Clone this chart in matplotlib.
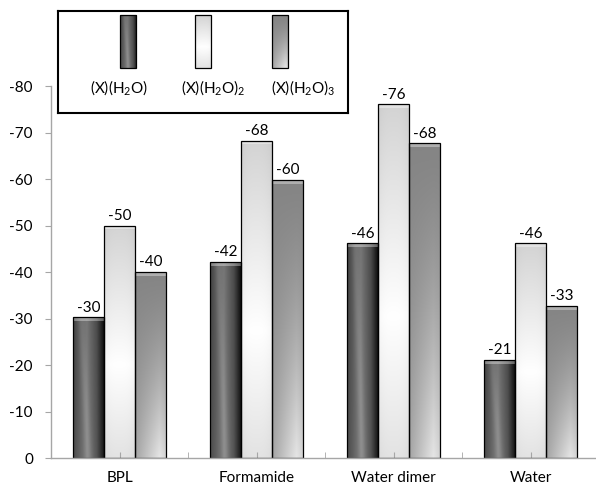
import matplotlib
matplotlib.use('Agg')
import matplotlib.pyplot as plt
import numpy as np

plt.rcParams['font.family'] = ['Lato', 'DejaVu Sans']
plt.rcParams['mathtext.default'] = 'regular'

# binding energies per complex size
categories = ['BPL', 'Formamide', 'Water dimer', 'Water']
series_names = [r'(X)(H$_2$O)', r'(X)(H$_2$O)$_2$', r'(X)(H$_2$O)$_3$']
one_water = [-30.3, -42.2, -46.2, -21.1]
two_water = [-50.0, -68.3, -76.1, -46.2]
three_water = [-40.1, -59.8, -67.7, -32.7]
yticks = [0, -10, -20, -30, -40, -50, -60, -70, -80]

AXIS_GREY = '#a6a6a6'


def interp_profile(t, pts):
    xs = [p[0] for p in pts]
    ys = [p[1] for p in pts]
    return np.interp(t, xs, ys)


def shade(kind, nx=40, ny=120):
    # u runs left->right, v runs top->bottom of the bar
    u = np.linspace(0, 1, nx)[None, :]
    v = np.linspace(0, 1, ny)[:, None]
    if kind == 0:
        base = interp_profile(u, [(0, 0.30), (0.15, 0.36), (0.45, 0.50), (0.78, 0.33), (1.0, 0.10)])
        streak = 0.07 * np.exp(-((u - 0.25 - 0.25 * v) / 0.12) ** 2)
        val = base + streak - 0.04 * (1 - v)
    elif kind == 1:
        vert = interp_profile(v, [(0, 0.83), (0.6, 1.0), (1.0, 0.89)])
        edge = 0.03 * (np.abs(u - 0.5) * 2) ** 3
        val = vert - edge
    else:
        val = 0.52 + 0.06 * v + 0.32 * (v ** 1.6) * interp_profile(u, [(0, 0.2), (0.8, 1.0), (1.0, 0.8)])
    val = np.clip(val * np.ones((ny, nx)), 0, 1)
    return np.dstack([val, val, val])


def paint_bar(ax, patch, kind):
    x = patch.get_x()
    w = patch.get_width()
    y0 = patch.get_y()
    h = patch.get_height()
    im = ax.imshow(shade(kind), extent=(x, x + w, y0, y0 + h), origin='upper',
                   aspect='auto', interpolation='bilinear', zorder=1.5)
    im.set_clip_path(patch)


fig = plt.figure(figsize=(5.96, 4.88), dpi=100)
ax = fig.add_axes([0.0856, 0.0609, 0.9195, 0.7623])

x = np.arange(len(categories))
width = 0.226
all_series = [one_water, two_water, three_water]
offsets = [-width, 0, width]

for k, vals in enumerate(all_series):
    bars = ax.bar(x + offsets[k], vals, width, facecolor='none', edgecolor='black',
                  linewidth=0.9, zorder=2)
    for b, v in zip(bars, vals):
        paint_bar(ax, b, k)
        # light bevel along the top edge
        ax.add_patch(plt.Rectangle((b.get_x(), v), b.get_width(), 0.8, facecolor='white',
                                   alpha=0.35, edgecolor='none', zorder=1.8))
        ax.annotate('%d' % round(v), (b.get_x() + b.get_width() / 2, v),
                    xytext=(0, 2), textcoords='offset points', ha='center', va='bottom',
                    fontsize=11)

ax.set_xlim(-0.5, len(categories) - 0.5)
ax.set_ylim(0, -80)
ax.set_yticks(yticks)
ax.set_yticklabels([str(t) for t in yticks], fontsize=11)
ax.set_xticks(x)
ax.set_xticklabels(categories, fontsize=11)
ax.set_xticks(np.arange(-0.5, len(categories), 1.0), minor=True)

for s in ['top', 'right']:
    ax.spines[s].set_visible(False)
for s in ['left', 'bottom']:
    ax.spines[s].set_color(AXIS_GREY)
    ax.spines[s].set_linewidth(1.0)

ax.tick_params(axis='y', direction='out', length=4, color=AXIS_GREY, pad=9)
ax.tick_params(axis='x', which='both', direction='in', length=4, color=AXIS_GREY, pad=9)

# legend box drawn by hand so the swatches carry the same shading
lax = fig.add_axes([0.0973, 0.7684, 0.4866, 0.209])
lax.set_xlim(0, 290)
lax.set_ylim(102, 0)
lax.set_xticks([])
lax.set_yticks([])
for s in lax.spines.values():
    s.set_color('black')
    s.set_linewidth(1.5)

swatch_x = [70, 145, 222]
label_x = [61, 155, 245]
for k in range(3):
    sw = lax.bar(swatch_x[k], -53, 16, bottom=57, facecolor='none', edgecolor='black',
                 linewidth=0.9, zorder=2)[0]
    paint_bar(lax, sw, k)
    lax.text(label_x[k], 77, series_names[k], ha='center', va='center', fontsize=11)
lax.set_xlim(0, 290)
lax.set_ylim(102, 0)

fig.savefig('out.png', dpi=100)
